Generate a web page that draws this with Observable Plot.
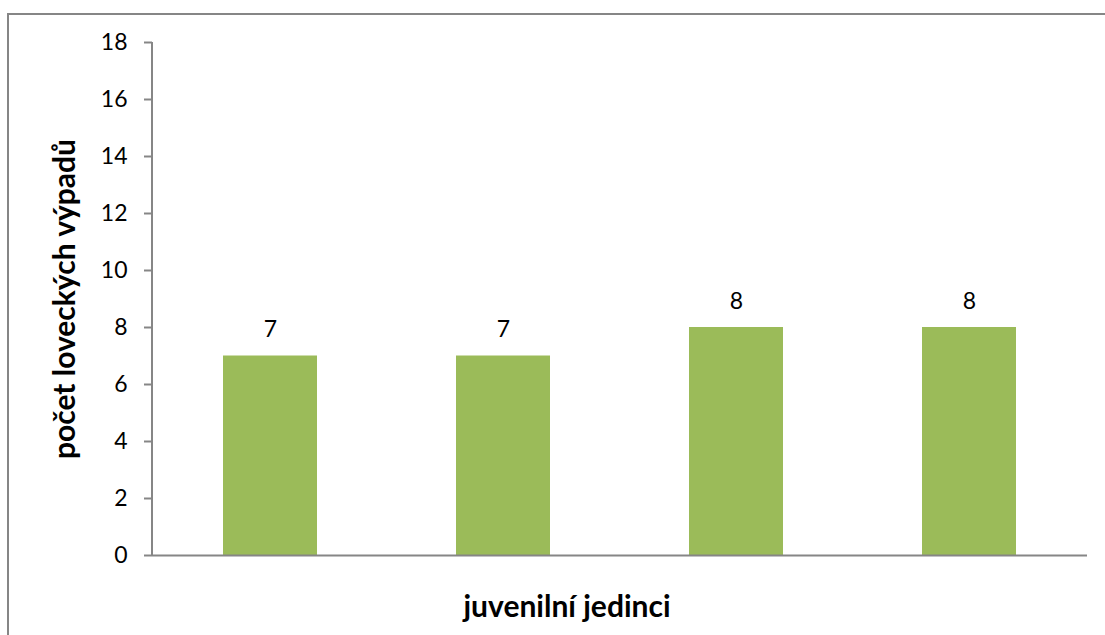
<!DOCTYPE html>
<html>
<head>
<meta charset="utf-8">
<script src="https://cdn.jsdelivr.net/npm/d3@7"></script>
<script src="https://cdn.jsdelivr.net/npm/@observablehq/plot@0.6"></script>
<style>
  html, body { margin: 0; padding: 0; background: #fff; overflow: hidden; }
  #wrap { position: relative; width: 1105px; height: 635px; overflow: hidden; }
  #border { position: absolute; left: 7px; top: 13px; width: 1200px; height: 700px;
            border-left: 2px solid #868686; border-top: 2px solid #868686; box-sizing: border-box; }
  #chart { position: absolute; left: 0; top: 0; }
</style>
</head>
<body>
<div id="wrap"><div id="border"></div><div id="chart"></div></div>
<script>
// hunting sorties of juvenile individuals
const categories = ["1", "2", "3", "4"];
const counts = [7, 7, 8, 8];
const yTicks = [0, 2, 4, 6, 8, 10, 12, 14, 16, 18];
const yTitle = "počet loveckých výpadů";
const xTitle = "juvenilní jedinci";

const rows = categories.map((c, i) => ({cat: c, n: counts[i]}));
const axisColor = "#868686";
const font = "Lato, 'Open Sans', sans-serif";

// vertical axis line along the left edge of the plot area
const leftLine = (index, scales, values, dims) => {
  const ns = "http://www.w3.org/2000/svg";
  const l = document.createElementNS(ns, "line");
  const x = dims.marginLeft;
  l.setAttribute("x1", x); l.setAttribute("x2", x);
  l.setAttribute("y1", scales.y(18)); l.setAttribute("y2", scales.y(0));
  l.setAttribute("stroke", axisColor); l.setAttribute("stroke-width", 2);
  return l;
};

const chart = Plot.plot({
  width: 1105,
  height: 635,
  marginLeft: 152,
  marginRight: 18,
  marginTop: 42,
  marginBottom: 80,
  style: {fontFamily: font, fontSize: "23px", color: "#000", background: "transparent", overflow: "visible"},
  x: {domain: categories, paddingInner: 0.598, paddingOuter: 0.299, axis: null},
  y: {domain: [0, 18], ticks: yTicks, label: null},
  marks: [
    Plot.barY(rows, {x: "cat", y: "n", fill: "#9BBB59"}),
    Plot.axisY({ticks: yTicks, tickSize: 8, tickPadding: 17, stroke: axisColor, strokeWidth: 2,
                fill: "#000", fontSize: 23, label: null, tickFormat: d => String(d)}),
    leftLine,
    Plot.ruleY([0], {stroke: axisColor, strokeWidth: 2}),
    Plot.text(rows, {x: "cat", y: "n", text: d => String(d.n), dy: -26, fontSize: 23, fill: "#000"}),
    Plot.text([xTitle], {frameAnchor: "bottom", textAnchor: "middle", lineAnchor: "middle",
                         dx: -53, dy: 52, fontSize: 30, fontWeight: "bold", fill: "#000"}),
    Plot.text([yTitle], {frameAnchor: "left", textAnchor: "middle", lineAnchor: "middle", rotate: -90,
                         dx: -87, dy: 0, fontSize: 30, fontWeight: "bold", fill: "#000"})
  ]
});
document.getElementById("chart").appendChild(chart);
</script>
</body>
</html>
